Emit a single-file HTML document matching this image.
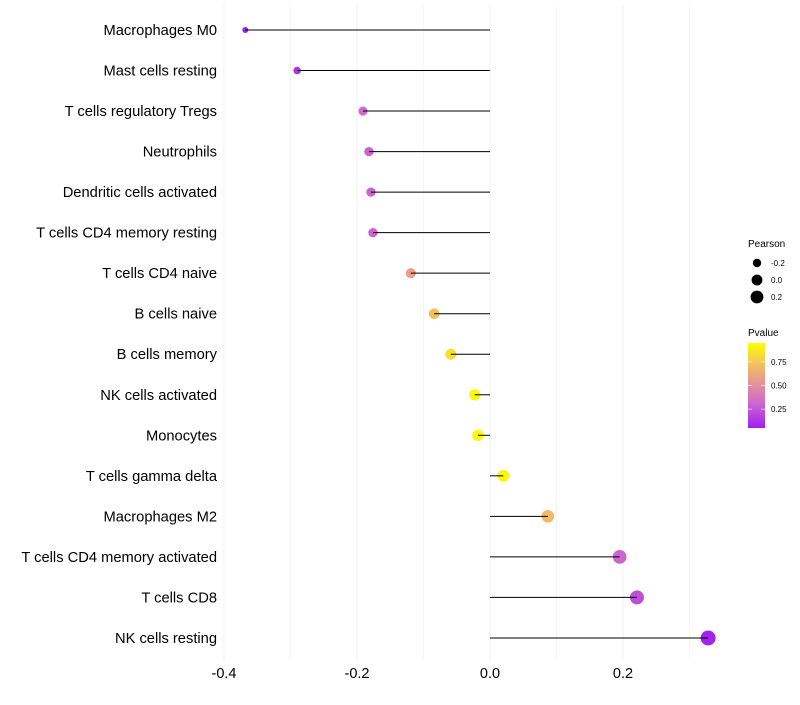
<!DOCTYPE html>
<html><head><meta charset="utf-8"><style>
body{margin:0;background:#fff;font-family:"Liberation Sans",sans-serif}
</style></head><body>
<svg id="c" width="800" height="700" xmlns="http://www.w3.org/2000/svg"></svg>
<script>
const categories=["Macrophages M0","Mast cells resting","T cells regulatory  Tregs ","Neutrophils","Dendritic cells activated","T cells CD4 memory resting","T cells CD4 naive","B cells naive","B cells memory","NK cells activated","Monocytes","T cells gamma delta","Macrophages M2","T cells CD4 memory activated","T cells CD8","NK cells resting"];
const pearson=[-0.368,-0.290,-0.191,-0.182,-0.179,-0.176,-0.119,-0.084,-0.059,-0.023,-0.018,0.020,0.087,0.195,0.221,0.328];
const pvalue=[0.05,0.12,0.32,0.3,0.3,0.3,0.58,0.72,0.84,0.93,0.94,0.92,0.70,0.3,0.22,0.06];
const xTicks=[-0.4,-0.2,0.0,0.2];
const xMinor=[-0.3,-0.1,0.1,0.3];
const legendSizes=[-0.2,0.0,0.2];
const legendP=[0.25,0.5,0.75];
const svg=document.getElementById('c');const NS="http://www.w3.org/2000/svg";
function X(v){return 490+v*665;}
function Y(i){return 30+i*40.53;}
function R(v){return Math.sqrt(Math.max(2,34+68*v));}
const stops=[[0,[160,32,240]],[0.3,[208,105,205]],[0.55,[232,152,145]],[0.75,[242,192,95]],[1,[255,255,0]]];
function col(p){const t=Math.max(0,Math.min(1,(p-0.05)/0.9));
 for(let k=1;k<stops.length;k++){if(t<=stops[k][0]){const [t0,a]=stops[k-1],[t1,b]=stops[k];const u=(t-t0)/(t1-t0);
 return `rgb(${a.map((c,j)=>Math.round(c+(b[j]-c)*u)).join(',')})`;}}
 return 'rgb(255,255,0)';}
function el(t,at,txt){const e=document.createElementNS(NS,t);for(const k in at)e.setAttribute(k,at[k]);if(txt!==undefined)e.textContent=txt;svg.appendChild(e);return e;}
xMinor.forEach(v=>{const g=el('line',{x1:X(v),x2:X(v),y1:5,y2:660,stroke:'#f6f6f6','stroke-width':1});
});
xTicks.forEach(v=>{const g=el('line',{x1:X(v),x2:X(v),y1:5,y2:660,stroke:'#f0f0f0','stroke-width':1});

const t=el('text',{x:X(v),y:678,'text-anchor':'middle','font-size':14.5,fill:'#000'},v.toFixed(1));
});
categories.forEach((c,i)=>{
 const t=el('text',{x:217,y:Y(i)+5,'text-anchor':'end','font-size':14.7,fill:'#000','xml:space':'preserve'},c);
 
 const d=el('circle',{cx:X(pearson[i]),cy:Y(i),r:R(pearson[i]),fill:col(pvalue[i])});
 
 const l=el('line',{x1:X(0),x2:X(pearson[i]),y1:Y(i),y2:Y(i),stroke:'#000','stroke-width':1});
 
});
let tt=el('text',{x:748,y:247,'font-size':10},'Pearson');
legendSizes.forEach((v,k)=>{const y=263+k*17;
 const c=el('circle',{cx:757,cy:y,r:R(v)*0.93,fill:'#000'});
 const t=el('text',{x:771,y:y+3,'font-size':8},v.toFixed(1));});
tt=el('text',{x:748,y:336,'font-size':10},'Pvalue');
const defs=el('defs',{});const lg=document.createElementNS(NS,'linearGradient');lg.setAttribute('id','g');lg.setAttribute('x1',0);lg.setAttribute('y1',1);lg.setAttribute('x2',0);lg.setAttribute('y2',0);defs.appendChild(lg);
for(let k=0;k<=20;k++){const s=document.createElementNS(NS,'stop');s.setAttribute('offset',k/20);s.setAttribute('stop-color',col(0.05+0.045*k));lg.appendChild(s);}
const bar=el('rect',{x:748,y:343,width:17,height:85,fill:'url(#g)'});
legendP.forEach(p=>{const y=428-(p-0.05)/0.9*85;
 el('line',{x1:748,x2:752,y1:y,y2:y,stroke:'#fff','stroke-width':0.6});el('line',{x1:761,x2:765,y1:y,y2:y,stroke:'#fff','stroke-width':0.6});
 const t=el('text',{x:771,y:y+3,'font-size':8},p.toFixed(2));});
</script>
</body></html>
